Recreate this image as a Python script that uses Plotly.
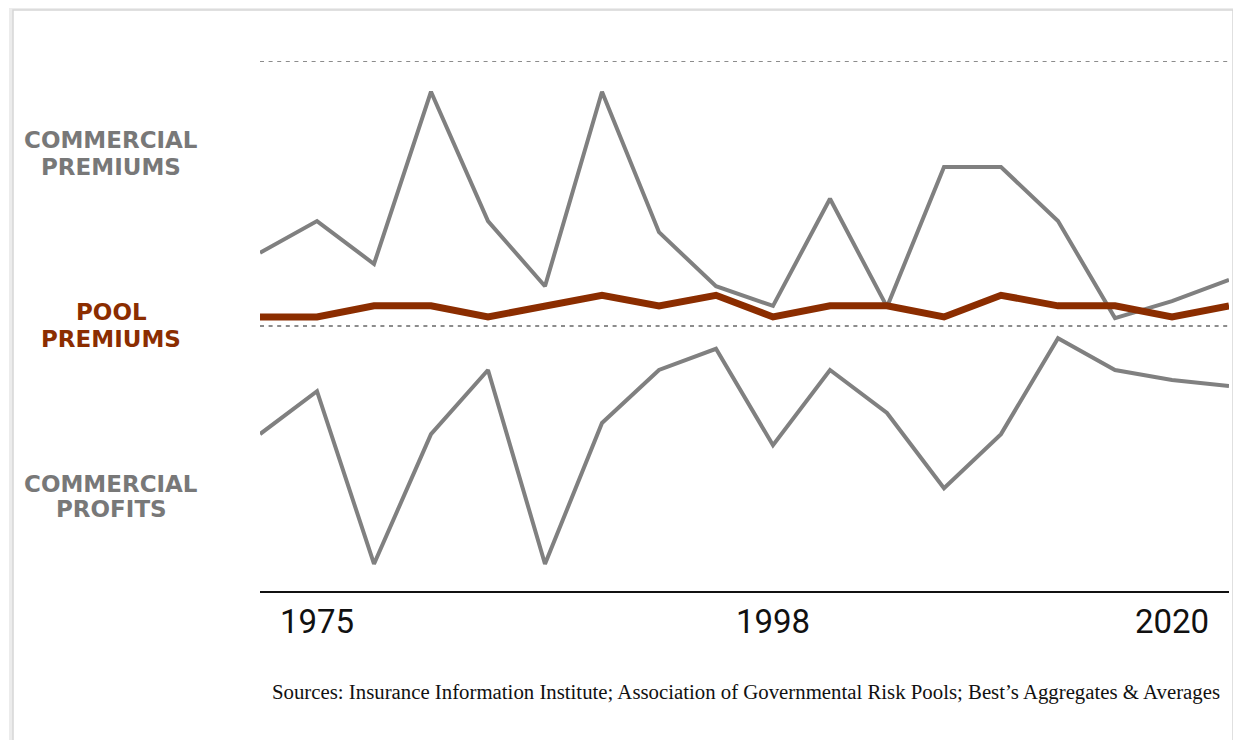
import plotly.graph_objects as go

# ---- data (index positions along the time axis; values in relative units) ----
x_index = list(range(18))
commercial_premiums = [63.8, 69.8, 61.7, 94.2, 69.8, 57.5, 94.2, 67.7, 57.5, 53.8,
                       74.0, 53.6, 80.0, 80.0, 69.8, 51.5, 54.7, 58.7]
pool_premiums = [51.7, 51.7, 53.8, 53.8, 51.7, 53.8, 55.8, 53.8, 55.8, 51.7,
                 53.8, 53.8, 51.7, 55.8, 53.8, 53.8, 51.7, 53.8]
commercial_profits = [29.6, 37.7, 5.1, 29.6, 41.7, 5.1, 31.7, 41.7, 45.7, 27.5,
                      41.7, 33.6, 19.4, 29.6, 47.7, 41.7, 39.8, 38.7]
tick_positions = [1, 9, 16]
tick_labels = ["1975", "1998", "2020"]
reference_levels = [100, 50]

GRAY = "#808080"
BROWN = "#8B2D00"
LABEL_GRAY = "#787878"

# page offset (default body margin of the html page)
OFF = 8
W, H = 1241 - OFF, 740 - OFF
L, R, T, B = 260 - OFF, 12, 61 - OFF, 149
pw, ph = W - L - R, H - T - B


def px_x(p):
    return (p - OFF - L) / pw


def px_y(p):
    return (H - B - (p - OFF)) / ph


fig = go.Figure()

# card background with faint shadow edge (drawn first so it sits underneath)
fig.add_shape(type="rect", xref="paper", yref="paper",
              x0=px_x(11), x1=px_x(1235), y0=px_y(760), y1=px_y(9),
              line=dict(color="#ececec", width=4), fillcolor="white", layer="below")
fig.add_shape(type="rect", xref="paper", yref="paper",
              x0=px_x(13), x1=px_x(1233), y0=px_y(760), y1=px_y(10),
              line=dict(color="#d6d6d6", width=1.5), fillcolor="white", layer="below")

for lvl in reference_levels:
    fig.add_shape(type="line", xref="paper", yref="y", x0=0, x1=1, y0=lvl, y1=lvl,
                  line=dict(color="#8c8c8c", width=2, dash="4px,4.6px"), layer="below")

fig.add_trace(go.Scatter(x=x_index, y=commercial_premiums, mode="lines",
                         line=dict(color=GRAY, width=4), name="Commercial premiums"))
fig.add_trace(go.Scatter(x=x_index, y=commercial_profits, mode="lines",
                         line=dict(color=GRAY, width=4), name="Commercial profits"))
fig.add_trace(go.Scatter(x=x_index, y=pool_premiums, mode="lines",
                         line=dict(color=BROWN, width=7), name="Pool premiums"))

label_font = dict(family="DejaVu Sans", size=23)
labels = [
    ("COMMERCIAL", 140, LABEL_GRAY), ("PREMIUMS", 167, LABEL_GRAY),
    ("POOL", 312, BROWN), ("PREMIUMS", 339, BROWN),
    ("COMMERCIAL", 484, LABEL_GRAY), ("PROFITS", 509, LABEL_GRAY),
]
for text, ypix, col in labels:
    fig.add_annotation(text="<b>%s</b>" % text, xref="paper", yref="paper",
                       x=px_x(111), y=px_y(ypix), xanchor="center", yanchor="middle",
                       showarrow=False, font=dict(color=col, **label_font))

fig.add_annotation(
    text="Sources: Insurance Information Institute; Association of Governmental Risk Pools; Best\u2019s Aggregates &amp; Averages",
    xref="paper", yref="paper", x=px_x(1222), y=px_y(692), xanchor="right", yanchor="middle",
    showarrow=False, font=dict(family="Liberation Serif", size=20.8, color="#111111"))

fig.update_layout(
    width=W, height=H,
    margin=dict(l=L, r=R, t=T, b=B),
    paper_bgcolor="white", plot_bgcolor="rgba(0,0,0,0)",
    showlegend=False,
    xaxis=dict(range=[0, 17], tickvals=tick_positions, ticktext=tick_labels,
               showgrid=False, zeroline=False, showline=True, linecolor="#111111",
               linewidth=2, ticks="", ticklabelstandoff=0,
               tickfont=dict(family="Roboto", size=33, color="#111111")),
    yaxis=dict(range=[0, 100], showgrid=False, zeroline=False, showline=False,
               showticklabels=False, ticks=""),
)

fig.write_html("out.html")
